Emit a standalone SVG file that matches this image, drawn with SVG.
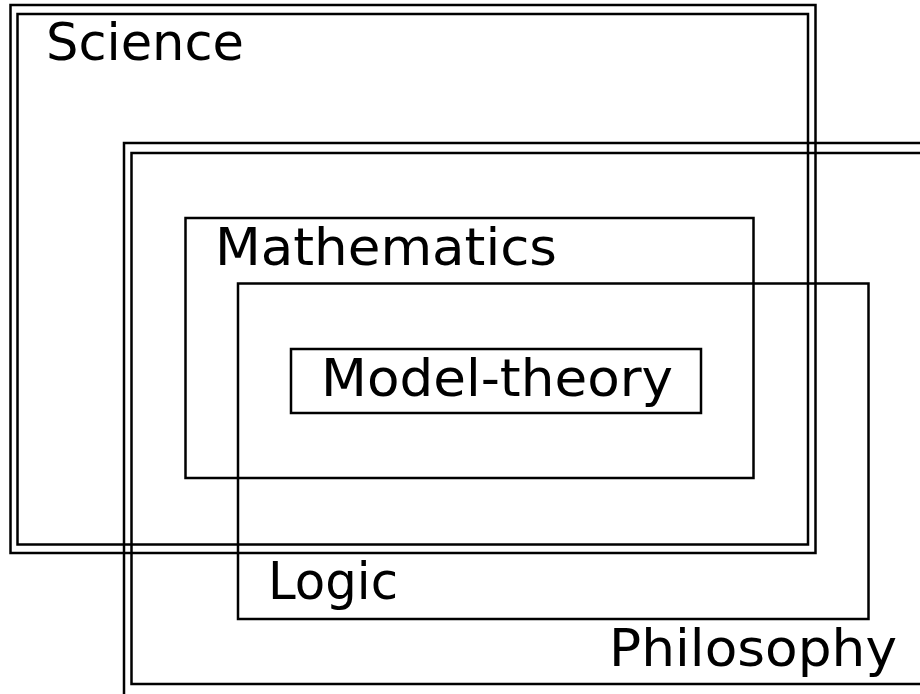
<svg xmlns="http://www.w3.org/2000/svg" width="920" height="694" viewBox="0 0 920 694">
<style>
.b{fill:none;stroke:#000;stroke-width:2.5}
.t{font-family:"DejaVu Sans","Liberation Sans",sans-serif;font-size:51px;fill:#000}
</style>
<rect width="920" height="694" fill="#fff"/>
<g id="science">
<rect class="b" x="10.5" y="5" width="805" height="548"/>
<rect class="b" x="17.5" y="14" width="790.5" height="530.5"/>
<text class="t" x="46" y="60" textLength="198" lengthAdjust="spacingAndGlyphs">Science</text>
</g>
<g id="philosophy">
<polyline class="b" points="124,700 124,143 925,143"/>
<polyline class="b" points="925,684 131.5,684 131.5,153 925,153"/>
<text class="t" x="609" y="666" textLength="288" lengthAdjust="spacingAndGlyphs">Philosophy</text>
</g>
<g id="mathematics">
<rect class="b" x="185.5" y="218" width="568" height="260"/>
<text class="t" x="215" y="265" textLength="342" lengthAdjust="spacingAndGlyphs">Mathematics</text>
</g>
<g id="logic">
<rect class="b" x="238" y="283.5" width="630.5" height="335.5"/>
<text class="t" x="268" y="599" textLength="130" lengthAdjust="spacingAndGlyphs">Logic</text>
</g>
<g id="model-theory">
<rect class="b" x="291" y="349" width="410" height="64"/>
<text class="t" x="321" y="396" textLength="352" lengthAdjust="spacingAndGlyphs">Model-theory</text>
</g>
<g id="connectors"/>
</svg>
